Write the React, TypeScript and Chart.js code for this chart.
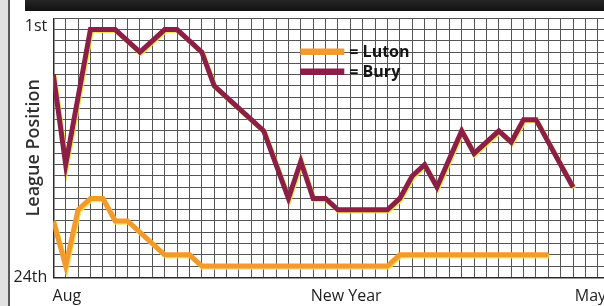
import { useEffect, useRef } from "react";
import { Chart, registerables } from "chart.js";

Chart.register(...registerables);

// Week index along the season (one grid column per week)
const buryWeeks = [
  0, 1, 2, 3, 4, 5, 6, 7, 8, 9, 10, 11, 12, 13, 14, 15, 16, 17, 18, 19, 20,
  21, 22, 23, 24, 25, 26, 27, 28, 29, 30, 31, 32, 33, 34, 35, 36, 37, 38, 39,
  40, 41, 42,
];
const buryPositions = [
  6, 14, 8, 2, 2, 2, 3, 4, 3, 2, 2, 3, 4, 7, 8, 9, 10, 11, 14, 17, 13.7,
  17, 17, 18, 18, 18, 18, 18, 17, 15, 14, 16, 13.5, 11, 13, 12, 11, 12, 10, 10,
  12, 14, 16,
];
const lutonWeeks = [
  0, 1, 2, 3, 4, 5, 6, 7, 8, 9, 10, 11, 12, 13, 14, 15, 16, 17, 18, 19, 20,
  21, 22, 23, 24, 25, 26, 27, 28, 29, 30, 31, 32, 33, 34, 35, 36, 37, 38, 39,
  40,
];
const lutonPositions = [
  19, 23, 18, 17, 17, 19, 19, 20, 21, 22, 22, 22, 23, 23, 23, 23, 23, 23, 23,
  23, 23, 23, 23, 23, 23, 23, 23, 23, 22, 22, 22, 22, 22, 22, 22, 22, 22, 22,
  22, 22, 22,
];

const xLabels = ["Aug", "New Year", "May"];
const xLabelWeeks = [1.1, 23.66, 43.4];
const yLabels = ["1st", "24th"];
const yLabelPositions = [1.7, 24];

const seriesNames = ["Luton", "Bury"];
const seriesColors = ["#F39A2E", "#8C1F47"];

const FONT = '"Open Sans", "Noto Sans", sans-serif';

const inlineLegend = {
  id: "inlineLegend",
  afterDatasetsDraw(chart: any) {
    const { ctx, chartArea } = chart;
    const x0 = chartArea.left + 247;
    const y0 = chartArea.top + 33.5;
    ctx.save();
    chart.data.datasets.forEach((ds: any, i: number) => {
      const y = y0 + i * 20;
      ctx.strokeStyle = ds.borderColor;
      ctx.lineWidth = 6.5;
      ctx.lineCap = "butt";
      ctx.beginPath();
      ctx.moveTo(x0, y);
      ctx.lineTo(x0 + 44, y);
      ctx.stroke();
      ctx.fillStyle = "#141414";
      ctx.font = `bold 16px ${FONT}`;
      ctx.textBaseline = "middle";
      ctx.textAlign = "left";
      ctx.fillText("= " + ds.label, x0 + 49, y + 1);
    });
    ctx.restore();
  },
};

const printFringe = {
  id: "printFringe",
  beforeDatasetDraw(chart: any) {
    const ctx = chart.ctx;
    ctx.save();
    ctx.shadowColor = "rgba(250, 222, 50, 0.85)";
    ctx.shadowOffsetX = 1;
    ctx.shadowOffsetY = 1.2;
    ctx.shadowBlur = 0;
  },
  afterDatasetDraw(chart: any) {
    chart.ctx.restore();
  },
};

export default function App() {
  const canvasRef = useRef<HTMLCanvasElement | null>(null);

  useEffect(() => {
    document.documentElement.style.overflow = "hidden";
    document.body.style.overflow = "hidden";
    document.body.style.margin = "0";
    const canvas = canvasRef.current;
    if (!canvas) return;
    const chart = new Chart(canvas, {
      type: "line",
      data: {
        datasets: [
          {
            label: seriesNames[0],
            data: lutonWeeks.map((w, i) => ({ x: w, y: lutonPositions[i] })),
            borderColor: seriesColors[0],
            borderWidth: 5,
            pointRadius: 0,
            tension: 0,
            borderJoinStyle: "miter",
            xAxisID: "x",
            yAxisID: "y",
          },
          {
            label: seriesNames[1],
            data: buryWeeks.map((w, i) => ({ x: w, y: buryPositions[i] })),
            borderColor: seriesColors[1],
            borderWidth: 5,
            pointRadius: 0,
            tension: 0,
            borderJoinStyle: "miter",
            xAxisID: "x",
            yAxisID: "y",
          },
        ],
      },
      options: {
        animation: false,
        responsive: false,
        maintainAspectRatio: false,
        layout: { padding: { top: 18.3, left: 0, right: 0, bottom: 0 } },
        plugins: {
          legend: { display: false },
          tooltip: { enabled: false },
        },
        scales: {
          x: {
            type: "linear",
            position: "bottom",
            weight: 0,
            min: 0,
            max: 44.5,
            ticks: { display: false, stepSize: 1, autoSkip: false, includeBounds: false },
            grid: { color: "#555555", lineWidth: 1, drawTicks: false },
            border: { display: true, color: "#2a2a2a", width: 1.5 },
            afterFit: (s: any) => {
              s.height = 0;
              s.paddingLeft = 0;
              s.paddingRight = 0;
            },
          },
          xText: {
            type: "linear",
            position: "bottom",
            weight: 1,
            min: 0,
            max: 44.5,
            afterBuildTicks: (s: any) => {
              s.ticks = xLabelWeeks.map((v) => ({ value: v }));
            },
            ticks: {
              autoSkip: false,
              maxRotation: 0,
              padding: 10,
              color: "#1e1e1e",
              font: { family: FONT, size: 16 },
              callback: (_v: any, i: number) => xLabels[i],
            },
            grid: { display: false, drawTicks: false },
            border: { display: false },
            afterFit: (s: any) => {
              s.height = 28.7;
              s.paddingLeft = 0;
              s.paddingRight = 0;
            },
          },
          y: {
            type: "linear",
            position: "left",
            weight: 0,
            min: 1,
            max: 24,
            reverse: true,
            ticks: { display: false, stepSize: 1, includeBounds: false },
            grid: { color: "#555555", lineWidth: 1, drawTicks: false },
            border: { display: true, color: "#2a2a2a", width: 1.5 },
            afterFit: (s: any) => {
              s.width = 0;
            },
          },
          yText: {
            type: "linear",
            position: "left",
            weight: 1,
            min: 1,
            max: 24,
            reverse: true,
            afterBuildTicks: (s: any) => {
              s.ticks = yLabelPositions.map((v) => ({ value: v }));
            },
            ticks: {
              autoSkip: false,
              padding: 6,
              color: "#1e1e1e",
              font: { family: FONT, size: 16 },
              callback: (_v: any, i: number) => yLabels[i],
            },
            title: {
              display: true,
              text: "League Position",
              color: "#2e2e2e",
              font: { family: FONT, size: 18, weight: "600" },
              padding: { top: 23.5, bottom: 0 },
            },
            grid: { display: false, drawTicks: false },
            border: { display: false },
            afterFit: (s: any) => {
              s.width = 53.3;
            },
          },
        },
      },
      plugins: [printFringe, inlineLegend],
    } as any);
    return () => chart.destroy();
  }, []);

  return (
    <div
      style={{
        position: "fixed",
        left: 0,
        top: 0,
        width: 604,
        height: 306,
        overflow: "hidden",
        background: "#ffffff",
      }}
    >
      <div
        style={{
          position: "absolute",
          left: 0,
          top: 0,
          width: 8,
          height: 306,
          background: "#e2e2e2",
        }}
      />
      <div
        style={{
          position: "absolute",
          left: 8,
          top: 0,
          width: 2,
          height: 306,
          background: "#5a5a5a",
        }}
      />
      <div
        style={{
          position: "absolute",
          left: 25,
          top: 0,
          width: 579,
          height: 11,
          background: "linear-gradient(#262626, #111111)",
        }}
      />
      <canvas
        ref={canvasRef}
        width={604}
        height={306}
        style={{ position: "absolute", left: 0, top: 0, width: 604, height: 306, display: "block" }}
      />
    </div>
  );
}
